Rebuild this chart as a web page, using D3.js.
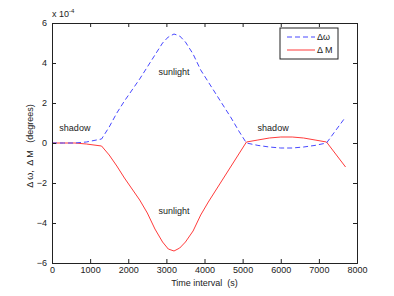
<!DOCTYPE html>
<html>
<head>
<meta charset="utf-8">
<script src="https://cdn.jsdelivr.net/npm/d3@7"></script>
<style>
  body { margin: 0; background: #fff; }
  text { font-family: "Liberation Sans", Arial, sans-serif; fill: #222; }
</style>
</head>
<body>
<svg id="chart"></svg>
<script>
"use strict";

// data (values in units of 1e-4 degrees)
const times = [0, 300, 600, 900, 1300, 1500, 1700, 1900, 2100, 2300, 2500, 2700, 2900, 3050, 3200,
  3350, 3500, 3700, 3900, 4100, 4300, 4500, 4700, 4900, 5100, 5400, 5700, 6000, 6300, 6600, 6900, 7200, 7700];
const dOmega = [0, 0, 0, 0.05, 0.2, 0.8, 1.5, 2.1, 2.65, 3.2, 3.8, 4.4, 5.0, 5.3, 5.45,
  5.35, 5.05, 4.45, 3.65, 3.05, 2.45, 1.85, 1.25, 0.6, 0, -0.12, -0.2, -0.25, -0.25, -0.2, -0.12, 0, 1.3];
const dM = [0, 0, 0, -0.05, -0.15, -0.6, -1.15, -1.75, -2.3, -2.85, -3.5, -4.3, -4.95, -5.3, -5.4,
  -5.25, -4.95, -4.4, -3.6, -2.95, -2.35, -1.75, -1.15, -0.55, 0.05, 0.15, 0.25, 0.3, 0.3, 0.25, 0.15, 0.05, -1.2];

const xTicks = [0, 1000, 2000, 3000, 4000, 5000, 6000, 7000, 8000];
const yTicks = [-6, -4, -2, 0, 2, 4, 6];
const seriesNames = ["\u0394\u03c9", "\u0394 M"];
const notes = [
  { t: 3200, v: 3.4, label: "sunlight" },
  { t: 3200, v: -3.55, label: "sunlight" },
  { t: 600, v: 0.6, label: "shadow" },
  { t: 5800, v: 0.6, label: "shadow" }
];

const svgWidth = 394, svgHeight = 296;
const margin = { top: 23, right: 37, bottom: 33, left: 52 };
const width = svgWidth - margin.left - margin.right;
const height = svgHeight - margin.top - margin.bottom;

const root = d3.select("#chart")
  .attr("width", svgWidth)
  .attr("height", svgHeight);

root.append("rect").attr("width", svgWidth).attr("height", svgHeight).attr("fill", "#fff");

const svg = root.append("g")
  .attr("transform", `translate(${margin.left},${margin.top})`);

const x = d3.scaleLinear().domain([0, 8000]).range([0, width]);
const y = d3.scaleLinear().domain([-6, 6]).range([height, 0]);

// lines
const line = d3.line()
  .x((d, i) => x(times[i]))
  .y(d => y(d));

svg.append("path")
  .datum(dM)
  .attr("d", line)
  .attr("fill", "none")
  .attr("stroke", "#ff3b3b")
  .attr("stroke-width", 1);

svg.append("path")
  .datum(dOmega)
  .attr("d", line)
  .attr("fill", "none")
  .attr("stroke", "#4848ff")
  .attr("stroke-width", 1)
  .attr("stroke-dasharray", "5,3");

// axes box with inward ticks (matlab style)
const tk = 4;
svg.append("g")
  .attr("transform", `translate(0,${height})`)
  .call(d3.axisBottom(x).tickValues(xTicks).tickSize(-tk).tickPadding(4).tickFormat(d3.format("d")));
svg.append("g")
  .call(d3.axisTop(x).tickValues(xTicks).tickSize(-tk).tickFormat(""));
svg.append("g")
  .call(d3.axisLeft(y).tickValues(yTicks).tickSize(-tk).tickPadding(5).tickFormat(d3.format("d")));
svg.append("g")
  .attr("transform", `translate(${width},0)`)
  .call(d3.axisRight(y).tickValues(yTicks).tickSize(-tk).tickFormat(""));

svg.selectAll(".domain").attr("stroke", "#222");
svg.selectAll(".tick line").attr("stroke", "#222");
svg.selectAll(".tick text").attr("font-size", 9).attr("fill", "#222")
  .attr("font-family", "Liberation Sans, Arial, sans-serif");

// exponent label
const ex = svg.append("text").attr("x", 0).attr("y", -6).attr("font-size", 9);
ex.append("tspan").text("x 10");
ex.append("tspan").attr("dy", -4).attr("font-size", 6).text("-4");

// axis labels
svg.append("text")
  .attr("x", width / 2)
  .attr("y", height + 23)
  .attr("text-anchor", "middle")
  .attr("font-size", 9)
  .attr("xml:space", "preserve")
  .text("Time interval  (s)");

svg.append("text")
  .attr("transform", "rotate(-90)")
  .attr("x", -(height / 2) - 3)
  .attr("y", -19)
  .attr("text-anchor", "middle")
  .attr("font-size", 9)
  .attr("xml:space", "preserve")
  .text("\u0394 \u03c9,  \u0394 M   (degrees)");

// annotations
svg.selectAll(".note")
  .data(notes)
  .enter()
  .append("text")
  .attr("class", "note")
  .attr("x", d => x(d.t))
  .attr("y", d => y(d.v))
  .attr("text-anchor", "middle")
  .attr("font-size", 9)
  .text(d => d.label);

// legend
const lg = svg.append("g").attr("transform", `translate(${width - 77},${5})`);
lg.append("rect")
  .attr("width", 58).attr("height", 31)
  .attr("fill", "#fff").attr("stroke", "#222");
const colors = ["#4848ff", "#ff3b3b"];
const dashes = ["5,3", null];
seriesNames.forEach((name, i) => {
  const row = lg.append("g").attr("transform", `translate(0,${9 + i * 13})`);
  row.append("line")
    .attr("x1", 7).attr("x2", 35)
    .attr("stroke", colors[i]).attr("stroke-width", 1)
    .attr("stroke-dasharray", dashes[i]);
  row.append("text")
    .attr("x", 37).attr("y", 3)
    .attr("font-size", 9)
    .text(name);
});
</script>
</body>
</html>
